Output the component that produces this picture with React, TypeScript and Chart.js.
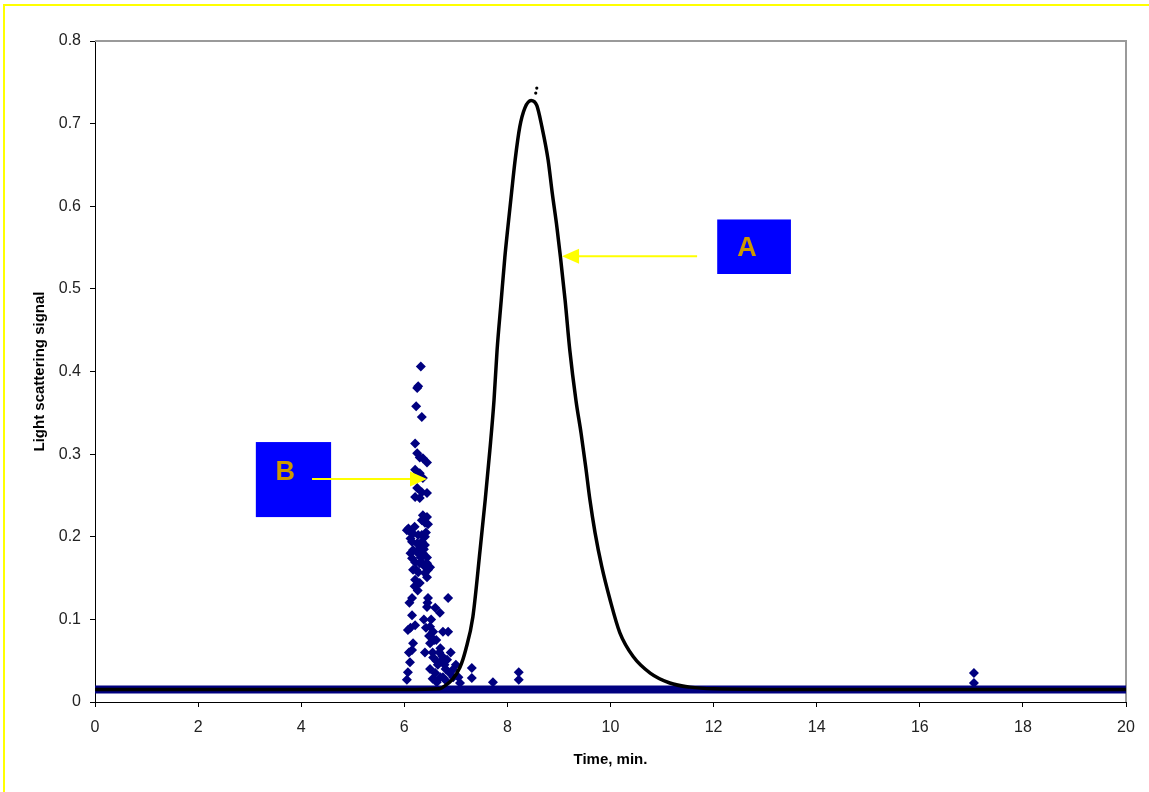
import React, { useEffect, useRef } from 'react';
import { Chart, registerables } from 'chart.js';

Chart.register(...registerables);

// ---- tick labels & titles ----
const xTicks = [0, 2, 4, 6, 8, 10, 12, 14, 16, 18, 20];
const yTicks = [0, 0.1, 0.2, 0.3, 0.4, 0.5, 0.6, 0.7, 0.8];
const xTitle = 'Time, min.';
const yTitle = 'Light scattering signal';

// ---- series A (black peak) ----
const curveATime = [
  0, 2, 4, 6, 6.69, 6.75, 6.93, 7.08, 7.19, 7.33, 7.47, 7.57, 7.66, 7.74, 7.8, 7.88, 7.95, 8.01, 8.08, 8.15,
  8.24, 8.34, 8.46, 8.57, 8.67, 8.79, 8.87, 8.96, 9.03, 9.12, 9.21, 9.33, 9.43, 9.52, 9.6, 9.7, 9.83, 9.99,
  10.18, 10.44, 10.77, 11.15, 11.54, 11.99, 14, 16, 18, 20,
];
const curveASignal = [
  0.015, 0.015, 0.015, 0.015, 0.016, 0.018, 0.027, 0.042, 0.063, 0.103, 0.184, 0.245, 0.305, 0.365, 0.426,
  0.486, 0.538, 0.575, 0.616, 0.656, 0.696, 0.719, 0.728, 0.722, 0.696, 0.656, 0.616, 0.575, 0.538, 0.486,
  0.426, 0.365, 0.325, 0.284, 0.245, 0.205, 0.164, 0.124, 0.084, 0.055, 0.035, 0.023, 0.018, 0.016, 0.015,
  0.015, 0.015, 0.015,
];
const peakDotsTime = [8.55, 8.57];
const peakDotsSignal = [0.737, 0.743];

// ---- series B (navy diamonds) ----
const baselineBTime = [0, 20];
const baselineBSignal = [0.015, 0.015];
const scatterBTime = [
  6.32, 6.25, 6.27, 6.23, 6.34, 6.21, 6.25, 6.3, 6.36, 6.44, 6.21, 6.3, 6.36, 6.25, 6.34, 6.44, 6.21, 6.3,
  6.36, 6.44, 6.34, 6.4, 6.05, 6.11, 6.17, 6.27, 6.34, 6.4, 6.15, 6.25, 6.34, 6.4, 6.17, 6.25, 6.3, 6.36,
  6.44, 6.15, 6.21, 6.34, 6.44, 6.5, 6.17, 6.27, 6.4, 6.46, 6.21, 6.3, 6.44,
  6.15, 6.46, 6.85, 6.15, 6.44, 6.6, 6.69, 6.21, 6.07, 6.5, 6.75, 6.85, 6.17, 6.15, 6.11, 6.07, 6.05, 6.5,
  6.56, 6.65, 6.83, 6.94, 6.75, 6.63, 7.08, 7.31, 7.31, 7.72, 8.22, 8.22, 17.05, 17.05,
  6.55, 6.7, 6.9, 6.95, 7.0, 6.6, 6.58, 6.72, 6.8,
  6.08, 6.12, 6.2, 6.28, 6.32, 6.38, 6.23, 6.3, 6.42, 6.46, 6.2, 6.26, 6.12, 6.38,
  6.38, 6.42, 6.48, 6.52, 6.56, 6.62, 6.68, 6.74, 6.78, 6.62, 6.5, 6.55, 6.7, 6.88, 6.82, 7.05, 6.4, 6.45,
  6.12, 6.1, 6.09,
];
const scatterBSignal = [
  0.406, 0.38, 0.382, 0.358, 0.345, 0.313, 0.301, 0.296, 0.295, 0.29, 0.281, 0.277, 0.271, 0.259, 0.254,
  0.253, 0.248, 0.247, 0.226, 0.224, 0.22, 0.217, 0.208, 0.206, 0.204, 0.202, 0.202, 0.2, 0.194, 0.192,
  0.194, 0.19, 0.184, 0.181, 0.186, 0.18, 0.175, 0.174, 0.169, 0.169, 0.168, 0.163, 0.16, 0.157, 0.156,
  0.16, 0.148, 0.144, 0.151,
  0.126, 0.126, 0.126, 0.105, 0.115, 0.114, 0.108, 0.093, 0.087, 0.091, 0.085, 0.085, 0.071, 0.063, 0.048,
  0.036, 0.027, 0.071, 0.054, 0.045, 0.051, 0.039, 0.03, 0.024, 0.023, 0.041, 0.029, 0.024, 0.036, 0.027,
  0.035, 0.023,
  0.06, 0.065, 0.06, 0.03, 0.045, 0.035, 0.075, 0.05, 0.04,
  0.21, 0.198, 0.212, 0.19, 0.175, 0.165, 0.16, 0.168, 0.205, 0.215, 0.14, 0.135, 0.18, 0.185,
  0.1, 0.09, 0.08, 0.1, 0.085, 0.075, 0.06, 0.055, 0.045, 0.05, 0.04, 0.028, 0.03, 0.035, 0.025, 0.03, 0.06,
  0.12, 0.09, 0.12, 0.06,
];

// ---- annotation labels ----
const calloutLabels = ['A', 'B'];

const FONT = '"Liberation Sans", Arial, sans-serif';
const NAVY = '#000080';

const toPoints = (xs: number[], ys: number[]) => xs.map((x, i) => ({ x, y: ys[i] }));

const framePlugin = {
  id: 'frame',
  beforeDatasetsDraw(chart: any) {
    const { ctx, chartArea: a } = chart;
    ctx.save();
    ctx.strokeStyle = '#9a9a9a';
    ctx.lineWidth = 2;
    ctx.beginPath();
    ctx.moveTo(a.left, a.top);
    ctx.lineTo(a.right, a.top);
    ctx.lineTo(a.right, a.bottom);
    ctx.stroke();
    ctx.restore();
  },
};

const calloutPlugin = {
  id: 'callouts',
  afterDatasetsDraw(chart: any, _args: any, opts: any) {
    const { ctx } = chart;
    const xs = chart.scales.x;
    const ys = chart.scales.y;
    ctx.save();
    for (const it of opts.items) {
      const x0 = xs.getPixelForValue(it.box[0]);
      const x1 = xs.getPixelForValue(it.box[1]);
      const y0 = ys.getPixelForValue(it.box[2]);
      const y1 = ys.getPixelForValue(it.box[3]);
      ctx.fillStyle = '#0000FF';
      ctx.fillRect(x0, y0, x1 - x0, y1 - y0);
      const tx = xs.getPixelForValue(it.text[0]);
      const ty = ys.getPixelForValue(it.text[1]);
      ctx.fillStyle = '#CC9900';
      ctx.font = `bold 27px ${FONT}`;
      ctx.textAlign = 'center';
      ctx.textBaseline = 'alphabetic';
      ctx.fillText(it.label, tx, ty + (0.716 * 27) / 2);
      const ax0 = xs.getPixelForValue(it.arrow[0]);
      const ax1 = xs.getPixelForValue(it.arrow[1]);
      const ay = ys.getPixelForValue(it.arrow[2]);
      const dir = Math.sign(ax1 - ax0);
      const headLen = 17;
      const headHalf = 7.5;
      ctx.strokeStyle = '#FFFF00';
      ctx.fillStyle = '#FFFF00';
      ctx.lineWidth = 2;
      ctx.beginPath();
      ctx.moveTo(ax0, ay);
      ctx.lineTo(ax1 - dir * headLen, ay);
      ctx.stroke();
      ctx.beginPath();
      ctx.moveTo(ax1, ay);
      ctx.lineTo(ax1 - dir * headLen, ay - headHalf);
      ctx.lineTo(ax1 - dir * headLen, ay + headHalf);
      ctx.closePath();
      ctx.fill();
    }
    ctx.restore();
  },
};

export default function App() {
  const canvasRef = useRef<HTMLCanvasElement | null>(null);

  useEffect(() => {
    if (!canvasRef.current) return;
    const chart = new Chart(canvasRef.current, {
      type: 'scatter',
      data: {
        datasets: [
          {
            label: 'A',
            data: toPoints(curveATime, curveASignal),
            showLine: true,
            borderColor: '#000000',
            borderWidth: 3.5,
            pointRadius: 0,
            cubicInterpolationMode: 'monotone',
            order: 0,
          } as any,
          {
            label: 'A dots',
            data: toPoints(peakDotsTime, peakDotsSignal),
            backgroundColor: '#000000',
            borderColor: '#000000',
            pointRadius: 1.6,
            borderWidth: 0,
            order: 0,
          },
          {
            label: 'B',
            data: toPoints(scatterBTime, scatterBSignal),
            pointStyle: 'rectRot',
            pointRadius: 5,
            backgroundColor: NAVY,
            borderColor: NAVY,
            borderWidth: 0,
            order: 2,
          },
          {
            label: 'B baseline',
            data: toPoints(baselineBTime, baselineBSignal),
            showLine: true,
            borderColor: NAVY,
            borderWidth: 8,
            pointRadius: 0,
            order: 3,
          } as any,
        ],
      },
      options: {
        responsive: false,
        animation: false,
        events: [],
        layout: { padding: { top: 41, right: 23, left: 0, bottom: 0 } },
        plugins: {
          legend: { display: false },
          tooltip: { enabled: false },
          callouts: {
            items: [
              { label: calloutLabels[0], box: [12.07, 13.5, 0.584, 0.518], text: [12.65, 0.551], arrow: [11.68, 9.06, 0.5396] },
              { label: calloutLabels[1], box: [3.12, 4.58, 0.3146, 0.2238], text: [3.69, 0.2807], arrow: [4.21, 6.44, 0.2698] },
            ],
          },
        } as any,
        scales: {
          x: {
            type: 'linear',
            min: 0,
            max: 20,
            afterBuildTicks: (s: any) => {
              s.ticks = xTicks.map((v) => ({ value: v }));
            },
            afterFit: (s: any) => {
              s.height = 90;
            },
            ticks: {
              color: '#222',
              font: { family: FONT, size: 16 },
              padding: 11,
              maxRotation: 0,
              callback: (v: any) => String(v),
            },
            grid: { drawOnChartArea: false, drawTicks: true, tickLength: 5, tickColor: '#000' },
            border: { display: true, color: '#000', width: 1 },
            title: {
              display: true,
              text: xTitle,
              color: '#000',
              font: { family: FONT, size: 15, weight: 'bold' },
              padding: { top: 0, bottom: 23 },
            },
          },
          y: {
            type: 'linear',
            min: 0,
            max: 0.8,
            afterBuildTicks: (s: any) => {
              s.ticks = yTicks.map((v) => ({ value: v }));
            },
            afterFit: (s: any) => {
              s.width = 95;
            },
            ticks: {
              color: '#222',
              font: { family: FONT, size: 16 },
              padding: 9,
              callback: (v: any) => String(Number(Number(v).toFixed(1))),
            },
            grid: { drawOnChartArea: false, drawTicks: true, tickLength: 5, tickColor: '#000' },
            border: { display: true, color: '#000', width: 1 },
            title: {
              display: true,
              text: yTitle,
              color: '#000',
              font: { family: FONT, size: 15, weight: 'bold' },
              padding: { top: 31, bottom: 0 },
            },
          },
        },
      } as any,
      plugins: [framePlugin, calloutPlugin],
    });
    return () => chart.destroy();
  }, []);

  return (
    <div
      style={{
        position: 'absolute',
        left: 0,
        top: 0,
        width: 1149,
        height: 792,
        background: '#fff',
        overflow: 'hidden',
      }}
    >
      <div
        style={{
          position: 'absolute',
          left: 3,
          top: 4,
          width: 2000,
          height: 2000,
          borderLeft: '2px solid #FFFF00',
          borderTop: '2px solid #FFFF00',
        }}
      />
      <canvas ref={canvasRef} width={1149} height={792} style={{ position: 'absolute', left: 0, top: 0 }} />
    </div>
  );
}
